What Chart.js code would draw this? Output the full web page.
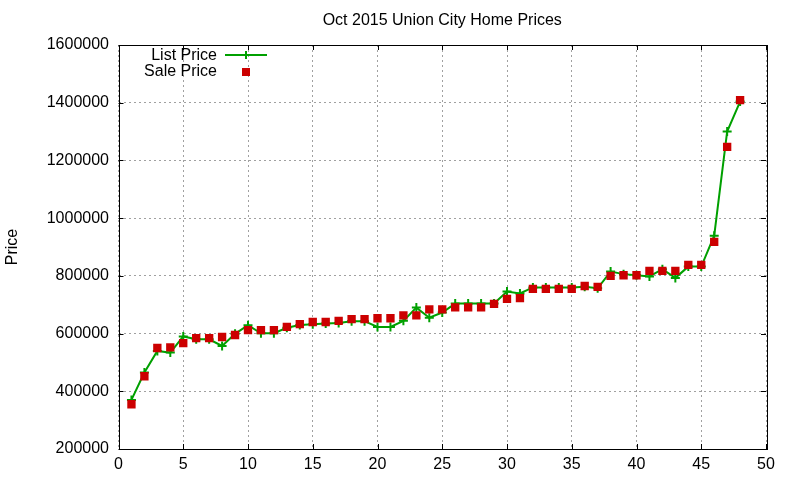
<!DOCTYPE html>
<html>
<head>
<meta charset="utf-8">
<title>Oct 2015 Union City Home Prices</title>
<script src="https://cdn.jsdelivr.net/npm/chart.js@4.4.0/dist/chart.umd.min.js"></script>
<style>
  body { margin: 0; background: #fff; }
  #wrap { width: 800px; height: 480px; }
  canvas { display: block; }
</style>
</head>
<body>
<div id="wrap"><canvas id="priceChart" width="800" height="480"></canvas></div>
<script>
// Home number (sorted by price) and prices
const homes = [1,2,3,4,5,6,7,8,9,10,11,12,13,14,15,16,17,18,19,20,21,22,23,24,
  25,26,27,28,29,30,31,32,33,34,35,36,37,38,39,40,41,42,43,44,45,46,47,48];

const listPrice = [370000, 465000, 540000, 534000, 590000, 580000, 580000, 557000,
  599000, 629000, 601000, 601000, 620000, 630000, 632000, 635000, 637000, 643000,
  643000, 623000, 623000, 644000, 690000, 655000, 673000, 704000, 704000, 704000,
  704000, 746000, 739000, 760000, 760000, 760000, 760000, 762000, 757000, 815000,
  806000, 802000, 798000, 823000, 793000, 832000, 832000, 939000, 1300000, 1404000];

const salePrice = [355000, 452000, 550000, 552000, 567000, 584000, 584000, 588000,
  595000, 612000, 612000, 612000, 623000, 633000, 640000, 640000, 644000, 650000,
  650000, 653000, 653000, 663000, 663000, 684000, 684000, 691000, 691000, 691000,
  703000, 720000, 723000, 755000, 755000, 755000, 755000, 765000, 762000, 800000,
  802000, 802000, 817000, 817000, 817000, 838000, 838000, 918000, 1247000, 1409000];

const xTicks = [0, 5, 10, 15, 20, 25, 30, 35, 40, 45, 50];
const yTicks = [200000, 400000, 600000, 800000, 1000000, 1200000, 1400000, 1600000];

const chartTitle = "Oct 2015 Union City Home Prices";
const yTitle = "Price";
const seriesNames = ["List Price", "Sale Price"];

const GREEN = "#00a000";
const RED = "#cc0000";
const FONT = '"Liberation Sans", Arial, sans-serif';

// frame, inward ticks, title, axis label and legend in gnuplot style
const gnuplotBits = {
  id: "gnuplotBits",
  beforeDatasetsDraw(chart) {
    const ctx = chart.ctx;
    const a = chart.chartArea;
    const xs = chart.scales.x, ys = chart.scales.y;
    ctx.save();
    ctx.strokeStyle = "#000";
    ctx.lineWidth = 1;
    ctx.beginPath();
    xTicks.forEach(v => {
      const px = Math.round(xs.getPixelForValue(v)) + 0.5;
      ctx.moveTo(px, a.bottom); ctx.lineTo(px, a.bottom - 5);
      ctx.moveTo(px, a.top); ctx.lineTo(px, a.top + 5);
    });
    yTicks.forEach(v => {
      const py = Math.round(ys.getPixelForValue(v)) + 0.5;
      ctx.moveTo(a.left, py); ctx.lineTo(a.left + 5, py);
      ctx.moveTo(a.right, py); ctx.lineTo(a.right - 5, py);
    });
    ctx.stroke();
    ctx.strokeRect(Math.round(a.left) + 0.5, Math.round(a.top) + 0.5,
      Math.round(a.right - a.left), Math.round(a.bottom - a.top));
    ctx.restore();
  },
  afterDraw(chart) {
    const ctx = chart.ctx;
    const a = chart.chartArea;
    ctx.save();
    ctx.fillStyle = "#000";
    ctx.font = "16px " + FONT;
    ctx.textBaseline = "middle";

    ctx.textAlign = "center";
    ctx.fillText(chartTitle, (a.left + a.right) / 2, 21);

    ctx.save();
    ctx.translate(13, (a.top + a.bottom) / 2);
    ctx.rotate(-Math.PI / 2);
    ctx.fillText(yTitle, 0, 0);
    ctx.restore();

    // legend
    ctx.textAlign = "right";
    ctx.fillText(seriesNames[0], 217, 56);
    ctx.fillText(seriesNames[1], 217, 72);
    ctx.strokeStyle = GREEN;
    ctx.lineWidth = 2;
    ctx.beginPath();
    ctx.moveTo(225, 55); ctx.lineTo(267, 55);
    ctx.moveTo(246, 51); ctx.lineTo(246, 59);
    ctx.stroke();
    ctx.fillStyle = RED;
    ctx.fillRect(242, 68, 8, 8);
    ctx.restore();
  }
};

const ctx = document.getElementById("priceChart").getContext("2d");
const chart = new Chart(ctx, {
  type: "line",
  data: {
    datasets: [
      {
        label: seriesNames[1],
        data: homes.map((h, i) => ({ x: h, y: salePrice[i] })),
        showLine: false,
        pointStyle: "rect",
        pointRadius: 5.9,
        pointBackgroundColor: RED,
        pointBorderColor: RED,
        pointBorderWidth: 0,
        order: 0
      },
      {
        label: seriesNames[0],
        data: homes.map((h, i) => ({ x: h, y: listPrice[i] })),
        borderColor: GREEN,
        borderWidth: 2,
        tension: 0,
        fill: false,
        pointStyle: "cross",
        pointRadius: 4.5,
        pointBorderColor: GREEN,
        pointBorderWidth: 2,
        order: 1
      }
    ]
  },
  options: {
    responsive: false,
    animation: false,
    devicePixelRatio: 1,
    layout: { padding: { left: 0, top: 45, right: 34, bottom: 0 } },
    plugins: { legend: { display: false }, tooltip: { enabled: false }, title: { display: false } },
    scales: {
      x: {
        type: "linear",
        min: 0, max: 50,
        afterFit(s) { s.height = 31; },
        afterBuildTicks(s) { s.ticks = xTicks.map(v => ({ value: v })); },
        ticks: { color: "#000", font: { family: FONT, size: 16 }, padding: 5.5, maxRotation: 0 },
        grid: { color: "#a0a0a0", lineWidth: 1, drawTicks: false },
        border: { display: false, dash: [2, 3] }
      },
      y: {
        min: 200000, max: 1600000,
        afterFit(s) { s.width = 118.5; },
        afterBuildTicks(s) { s.ticks = yTicks.map(v => ({ value: v })); },
        ticks: { color: "#000", font: { family: FONT, size: 16 }, padding: 9.5, callback: v => String(v) },
        grid: { color: "#a0a0a0", lineWidth: 1, drawTicks: false },
        border: { display: false, dash: [2, 3] }
      }
    }
  },
  plugins: [gnuplotBits]
});
</script>
</body>
</html>
